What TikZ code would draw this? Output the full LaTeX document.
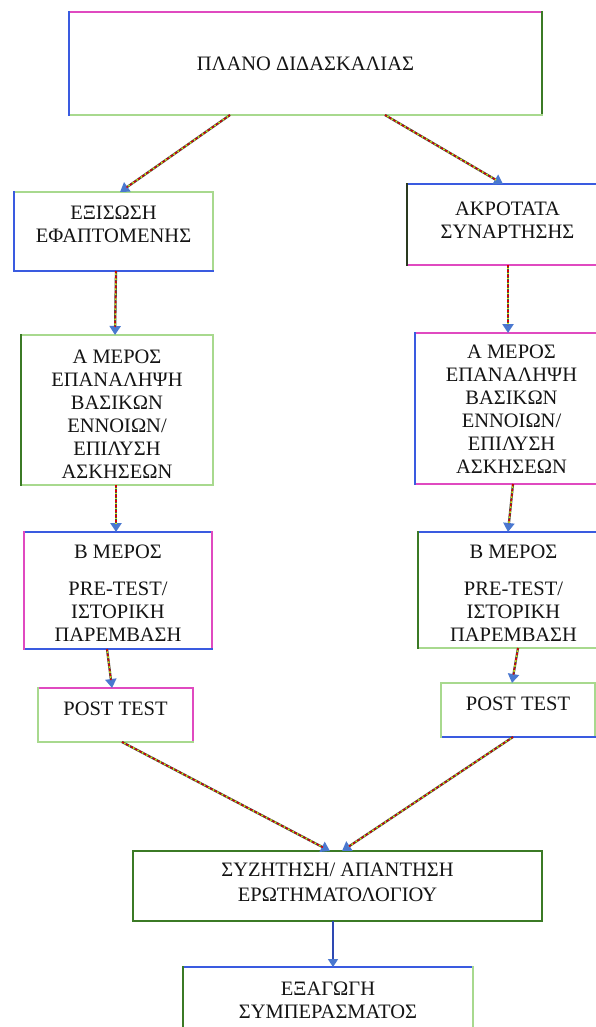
\documentclass[tikz,border=0pt]{standalone}
\usepackage{fontspec}
\setmainfont{Liberation Serif}
\usetikzlibrary{arrows.meta}
\definecolor{lgreen}{HTML}{A8D98E}
\definecolor{pinkc}{HTML}{E04AC0}
\definecolor{bluec}{HTML}{3A5BE0}
\definecolor{dgreen}{HTML}{3B7A25}
\definecolor{darkc}{HTML}{2A3A20}
\definecolor{txtc}{HTML}{141414}
\definecolor{arrblue}{HTML}{4A78D0}
\newcommand\bsides[5]{%
  \draw[side,#2] (#1.north west) -- (#1.north east);
  \draw[side,#3] (#1.north east) -- (#1.south east);
  \draw[side,#4] (#1.south east) -- (#1.south west);
  \draw[side,#5] (#1.south west) -- (#1.north west);}
\tikzset{
  box/.style={draw=none, inner sep=0pt, outer sep=0pt},
  side/.style={line width=1.8pt, line cap=rect},
  txt/.style={font=\fontsize{20.5}{23}\selectfont, text=txtc, align=center, inner sep=0pt, anchor=north},
  arr/.style={line width=2.3pt, draw=black!70,
    -{Triangle[length=9pt,width=11pt,color=arrblue]},
    postaction={draw=red!85!black, line width=1.5pt, dash pattern=on 2pt off 3pt, arrows=-, shorten >=8pt},
    postaction={draw=yellow!85!green, line width=1.5pt, dash pattern=on 1.5pt off 3.5pt, dash phase=2.5pt, arrows=-, shorten >=8pt}},
  arrb/.style={line width=1.6pt, draw=bluec!80!black, -{Triangle[length=8pt,width=10pt,color=arrblue]}}
}
\begin{document}
\begin{tikzpicture}[x=1pt,y=-1pt]
\useasboundingbox (0,0) rectangle (596,1027);
\clip (0,0) rectangle (596,1027);
\fill[white] (0,0) rectangle (596,1027);
% boxes
\node[box, minimum width=473pt, minimum height=103pt] (top) at (305.5,63.5) {};
\node[box, minimum width=199pt, minimum height=79pt] (L1) at (113.5,231.5) {};
\node[box, minimum width=201pt, minimum height=81pt] (R1) at (507.5,224.5) {};
\node[box, minimum width=192pt, minimum height=150pt] (LA) at (117,410) {};
\node[box, minimum width=193pt, minimum height=151pt] (RA) at (511.5,408.5) {};
\node[box, minimum width=188pt, minimum height=117pt] (LB) at (118,590.5) {};
\node[box, minimum width=191pt, minimum height=116pt] (RB) at (513.5,590) {};
\node[box, minimum width=155pt, minimum height=54pt] (LP) at (115.5,715) {};
\node[box, minimum width=154pt, minimum height=54pt] (RP) at (518,710) {};
\node[box, minimum width=409pt, minimum height=70pt] (SZ) at (337.5,886) {};
\node[box, minimum width=290pt, minimum height=73pt] (EX) at (328,1003.5) {};
\bsides{top}{pinkc}{dgreen}{lgreen}{bluec}
\bsides{L1}{lgreen}{lgreen}{bluec}{bluec}
\bsides{R1}{bluec}{bluec}{pinkc}{darkc}
\bsides{LA}{lgreen}{lgreen}{lgreen}{dgreen}
\bsides{RA}{pinkc}{pinkc}{pinkc}{bluec}
\bsides{LB}{bluec}{pinkc}{bluec}{pinkc}
\bsides{RB}{bluec}{bluec}{lgreen}{dgreen}
\bsides{LP}{pinkc}{pinkc}{lgreen}{lgreen}
\bsides{RP}{lgreen}{lgreen}{bluec}{lgreen}
\bsides{SZ}{dgreen}{dgreen}{dgreen}{dgreen}
\bsides{EX}{bluec}{lgreen}{lgreen}{dgreen}
% texts
\node[txt] (topT) at (305.5,57) {ΠΛΑΝΟ ΔΙΔΑΣΚΑΛΙΑΣ};
\node[txt] (L1T) at (113.5,206) {ΕΞΙΣΩΣΗ\\ΕΦΑΠΤΟΜΕΝΗΣ};
\node[txt] (R1T) at (507.5,202) {ΑΚΡΟΤΑΤΑ\\ΣΥΝΑΡΤΗΣΗΣ};
\node[txt] (LAT) at (117,350) {Α ΜΕΡΟΣ\\ΕΠΑΝΑΛΗΨΗ\\ΒΑΣΙΚΩΝ\\ΕΝΝΟΙΩΝ/\\ΕΠΙΛΥΣΗ\\ΑΣΚΗΣΕΩΝ};
\node[txt] (RAT) at (511.5,345) {Α ΜΕΡΟΣ\\ΕΠΑΝΑΛΗΨΗ\\ΒΑΣΙΚΩΝ\\ΕΝΝΟΙΩΝ/\\ΕΠΙΛΥΣΗ\\ΑΣΚΗΣΕΩΝ};
\node[txt] (LBT) at (118,545) {Β ΜΕΡΟΣ\\[14pt]PRE-TEST/\\ΙΣΤΟΡΙΚΗ\\ΠΑΡΕΜΒΑΣΗ};
\node[txt] (RBT) at (513.5,545) {Β ΜΕΡΟΣ\\[14pt]PRE-TEST/\\ΙΣΤΟΡΙΚΗ\\ΠΑΡΕΜΒΑΣΗ};
\node[txt] (LPT) at (115.5,702) {POST TEST};
\node[txt] (RPT) at (518,697) {POST TEST};
\node[txt] (SZT) at (337.5,863) {ΣΥΖΗΤΗΣΗ/ ΑΠΑΝΤΗΣΗ\\[2pt]ΕΡΩΤΗΜΑΤΟΛΟΓΙΟΥ};
\node[txt] (EXT) at (328,982) {ΕΞΑΓΩΓΗ\\ΣΥΜΠΕΡΑΣΜΑΤΟΣ};
% connectors
\draw[arr] ([xshift=-75.5pt]top.south) -- ([xshift=6.5pt]L1.north);
\draw[arr] ([xshift=79.5pt]top.south) -- ([xshift=-4.5pt]R1.north);
\draw[arr] ([xshift=2.5pt]L1.south) -- ([xshift=-2pt]LA.north);
\draw[arr] ([xshift=0.5pt]R1.south) -- ([xshift=-3.5pt]RA.north);
\draw[arr] ([xshift=-1pt]LA.south) -- ([xshift=-2pt]LB.north);
\draw[arr] ([xshift=1.5pt]RA.south) -- ([xshift=-5.5pt]RB.north);
\draw[arr] ([xshift=-11pt]LB.south) -- ([xshift=-3.5pt]LP.north);
\draw[arr] ([xshift=4.5pt]RB.south) -- ([xshift=-6pt]RP.north);
\draw[arr] ([xshift=6.5pt]LP.south) -- ([xshift=-7.5pt]SZ.north);
\draw[arr] ([xshift=-5pt]RP.south) -- ([xshift=4.5pt]SZ.north);
\draw[arrb] ([xshift=-4.5pt]SZ.south) -- ([xshift=5pt]EX.north);
\end{tikzpicture}
\end{document}
